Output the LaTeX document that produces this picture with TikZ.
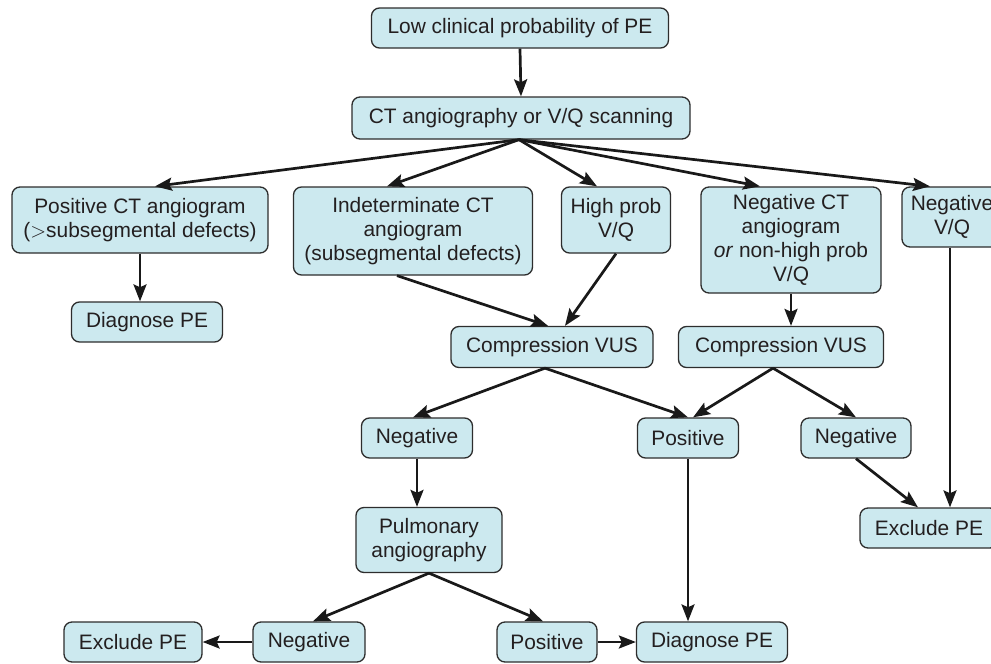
\documentclass[tikz,border=0pt]{standalone}
\usepackage{fontspec}
\setmainfont{Liberation Sans}
\usetikzlibrary{arrows.meta}
\definecolor{boxfill}{RGB}{204,233,239}
\definecolor{boxline}{RGB}{45,45,45}
\definecolor{txt}{RGB}{35,31,32}
\tikzset{
  box/.style={draw=boxline, fill=boxfill, line width=1.3pt, rounded corners=8pt,
    align=center, inner sep=0pt, text=txt,
    font=\fontsize{20.9}{24}\selectfont},
  conn/.style={line width=2.7pt, draw=black!90,
    -{Stealth[length=17pt,width=13pt,inset=3pt]}}
}
\newcommand{\bx}[5]{\node[box, minimum width=#3pt, minimum height=#4pt] (#1) at (#2) {#5};}
\begin{document}
\begin{tikzpicture}[x=1pt,y=-1pt]
\useasboundingbox (0,0) rectangle (991,664);
\clip (0,0) rectangle (991,664);
\bx{low}{520,28}{297}{40}{Low clinical probability of PE}
\bx{ct}{521,118}{338}{42}{CT angiography or V/Q scanning}
\bx{pos}{140,220}{256}{66}{Positive CT angiogram\\($>$subsegmental defects)}
\bx{ind}{413,231}{239}{88}{Indeterminate CT\\angiogram\\(subsegmental defects)}
\bx{hp}{616,220}{109}{66}{High prob\\V/Q}
\bx{negct}{791,240}{180}{106}{Negative CT\\angiogram\\\textit{or} non-high prob\\V/Q}
\bx{negvq}{952,217}{100}{60}{Negative\\V/Q}
\bx{dpeA}{147,322}{151}{40}{Diagnose PE}
\bx{cvusA}{552,347}{202}{41}{Compression VUS}
\bx{cvusB}{781,347}{205}{41}{Compression VUS}
\bx{negA}{417,438}{111}{40}{Negative}
\bx{posA}{688,438}{101}{40}{Positive}
\bx{negB}{856,438}{110}{40}{Negative}
\bx{exclB}{929,528}{138}{40}{Exclude PE}
\bx{pulm}{429,540}{146}{65}{Pulmonary\\angiography}
\bx{exclA}{133,642}{138}{40}{Exclude PE}
\bx{negC}{309,642}{112}{40}{Negative}
\bx{posC}{547,642}{100}{40}{Positive}
\bx{dpeC}{712,642}{151}{40}{Diagnose PE}

\draw[conn] (low.south) -- (ct.north);
\draw[conn] ([xshift=-2pt]ct.south) -- ([xshift=15pt]pos.north);
\draw[conn] ([xshift=-2pt]ct.south) -- ([xshift=-26pt]ind.north);
\draw[conn] ([xshift=-2pt]ct.south) -- ([xshift=-19pt]hp.north);
\draw[conn] ([xshift=-2pt]ct.south) -- ([xshift=-31pt]negct.north);
\draw[conn] ([xshift=-2pt]ct.south) -- ([xshift=-22pt]negvq.north);
\draw[conn] (pos.south) -- (pos.south |- dpeA.north);
\draw[conn] ([xshift=-16pt]ind.south) -- ([xshift=-4pt]cvusA.north);
\draw[conn] (hp.south) -- ([xshift=13pt]cvusA.north);
\draw[conn] (negct.south) -- (negct.south |- cvusB.north);
\draw[conn] ([xshift=-7pt]cvusA.south) -- ([xshift=-4pt]negA.north);
\draw[conn] ([xshift=-7pt]cvusA.south) -- (posA.north);
\draw[conn] ([xshift=-8pt]cvusB.south) -- ([xshift=5pt]posA.north);
\draw[conn] ([xshift=-8pt]cvusB.south) -- (negB.north);
\draw[conn] (negA.south) -- (negA.south |- pulm.north);
\draw[conn] ([xshift=-2pt]negvq.south) -- ([xshift=-2pt]negvq.south |- exclB.north);
\draw[conn] (negB.south) -- ([xshift=-11pt]exclB.north);
\draw[conn] (posA.south) -- (posA.south |- dpeC.north);
\draw[conn] (pulm.south) -- ([xshift=4pt]negC.north);
\draw[conn] (pulm.south) -- ([xshift=-4pt]posC.north);
\draw[conn] (negC.west) -- (exclA.east);
\draw[conn] (posC.east) -- (dpeC.west);
\end{tikzpicture}
\end{document}
